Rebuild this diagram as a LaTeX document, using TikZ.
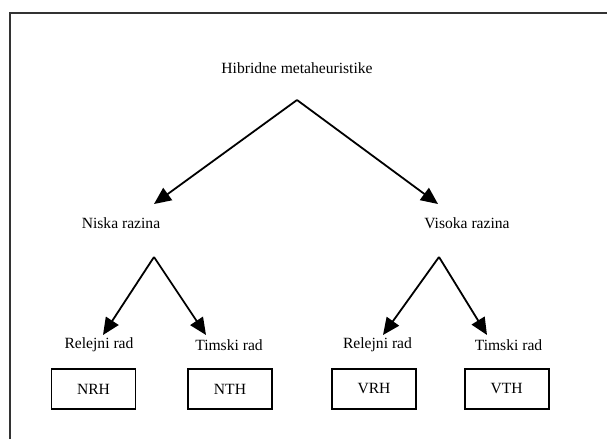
\documentclass[tikz,border=0pt]{standalone}
\usepackage{fontspec}
\setmainfont{Liberation Serif}
\usetikzlibrary{arrows.meta}

\tikzset{
  label/.style = {font=\fontsize{15.6}{19}\selectfont, inner sep=0pt},
  hbox/.style = {draw, line width=1.8pt, minimum width=84pt, minimum height=40pt,
                 font=\fontsize{15.6}{19}\selectfont},
  arr/.style = {line width=1.8pt, -{Triangle[length=17pt,width=15pt]}}
}

\begin{document}
\begin{tikzpicture}[x=1pt,y=-1pt]

\useasboundingbox (0,0) rectangle (607,439);

% frame
\draw [line width=1.3pt, black!80] (10,439) -- (10,13) -- (607,13);

\node [label] (hm) at (297,68) {Hibridne metaheuristike};
\node [label] (niska) at (121,223) {Niska razina};
\node [label] (visoka) at (467,223) {Visoka razina};

\node [label] (nrel) at (99,345) {Relejni rad};
\node [label] (ntim) at (229,345) {Timski rad};
\node [label] (vrel) at (377.5,345) {Relejni rad};
\node [label] (vtim) at (508.5,345) {Timski rad};

\node [hbox] (nrh) at (93.5,389) {NRH};
\node [hbox] (nth) at (230,389) {NTH};
\node [hbox] (vrh) at (374,389) {VRH};
\node [hbox] (vth) at (506.6,389) {VTH};

\coordinate (hm') at (297,100);
\coordinate (niska') at (154,204);
\coordinate (visoka') at (438,204);

\coordinate (n') at (154,257);
\coordinate (nrel') at (103,335);
\coordinate (ntim') at (206,335);

\coordinate (v') at (439,257);
\coordinate (vrel') at (383,335);
\coordinate (vtim') at (487,335);

\draw [arr] (hm') -- (niska');
\draw [arr] (hm') -- (visoka');

\draw [arr] (n') -- (nrel');
\draw [arr] (n') -- (ntim');
\draw [arr] (v') -- (vrel');
\draw [arr] (v') -- (vtim');

\end{tikzpicture}
\end{document}
